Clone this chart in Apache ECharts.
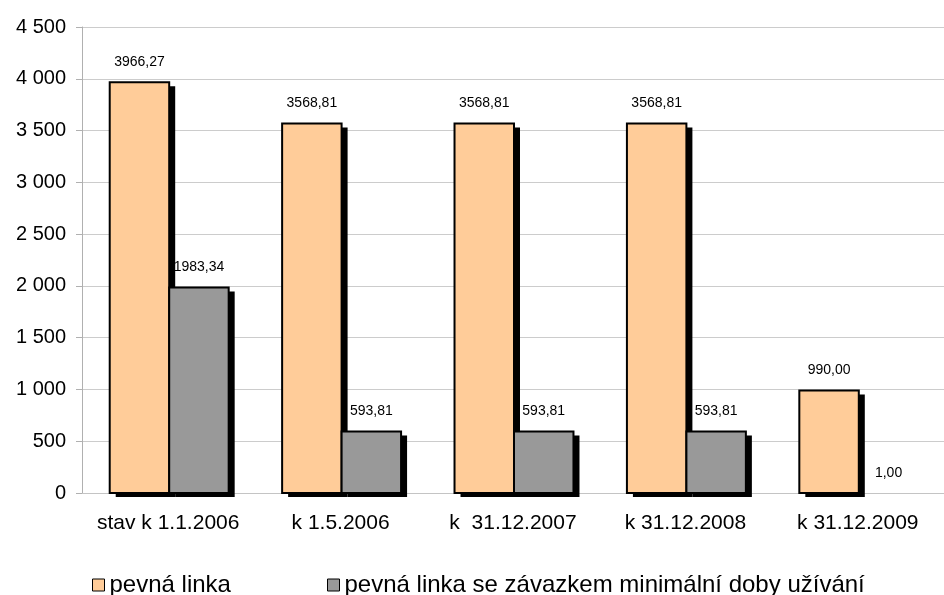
<!DOCTYPE html>
<html>
<head>
<meta charset="utf-8">
<script src="https://cdn.jsdelivr.net/npm/echarts@6/dist/echarts.min.js"></script>
<style>
  html, body { margin: 0; padding: 0; background: #fff; }
  #chart { width: 944px; height: 595px; }
</style>
</head>
<body>
<div id="chart"></div>
<script>
const categories = ['stav k 1.1.2006', 'k 1.5.2006', 'k  31.12.2007', 'k 31.12.2008', 'k 31.12.2009']
const pevnaLinka = [3966.27, 3568.81, 3568.81, 3568.81, 990.0]
const seZavazkem = [1983.34, 593.81, 593.81, 593.81, 1.0]
const seriesNames = ['pevná linka', 'pevná linka se závazkem minimální doby užívání']
const seriesColors = ['#ffcc99', '#999999']

const font = '"Liberation Sans", Arial, sans-serif'

function fmtValue(v) {
  return v.toFixed(2).replace('.', ',')
}

function fmtAxis(v) {
  return String(v).replace(/\B(?=(\d{3})+(?!\d))/g, ' ')
}

// bar with a hard black drop shadow, drawn via the axis scales
function makeRender(color, slot) {
  return (params, api) => {
    const i = api.value(0)
    const v = api.value(1)
    const top = api.coord([i, v])
    const base = api.coord([i, 0])
    const band = api.size([1, 0])[0]
    const w = band * 0.345
    const x = top[0] - w + slot * w + 1
    const h = base[1] - top[1]
    const children = []
    if (h >= 1) {
      children.push({
        type: 'rect',
        shape: { x: x + 6, y: top[1] + 4, width: w, height: h },
        style: { fill: '#000' },
      })
      children.push({
        type: 'rect',
        shape: { x, y: top[1], width: w, height: h },
        style: { fill: color, stroke: '#000', lineWidth: 2 },
      })
    }
    children.push({
      type: 'text',
      style: {
        text: fmtValue(v),
        x: x + w / 2,
        y: top[1] - 20,
        align: 'center',
        verticalAlign: 'middle',
        font: '14px ' + font,
        fill: '#000',
      },
    })
    return { type: 'group', children }
  }
}

const legendBase = {
  top: 573,
  padding: 0,
  icon: 'rect',
  itemWidth: 12,
  itemHeight: 12,
  textStyle: { fontFamily: font, fontSize: 24, lineHeight: 24, color: '#000' },
  itemStyle: { borderColor: '#000', borderWidth: 1 },
}

const chart = echarts.init(document.getElementById('chart'))
chart.setOption({
  animation: false,
  grid: { left: 82, right: 0, top: 27, bottom: 102 },
  legend: [
    { ...legendBase, left: 92, data: [seriesNames[0]] },
    { ...legendBase, left: 327, data: [seriesNames[1]] },
  ],
  xAxis: {
    type: 'category',
    data: categories,
    axisLine: { lineStyle: { color: '#c4c4c4' } },
    axisTick: { show: false },
    axisLabel: { interval: 0, color: '#000', fontFamily: font, fontSize: 21, margin: 20 },
  },
  yAxis: {
    type: 'value',
    min: 0,
    max: 4500,
    interval: 500,
    axisLine: { show: true, lineStyle: { color: '#b0b0b0' } },
    axisTick: { show: true, length: 6, lineStyle: { color: '#b0b0b0' } },
    splitLine: { lineStyle: { color: '#cccccc' } },
    axisLabel: { color: '#000', fontFamily: font, fontSize: 20, margin: 16, formatter: fmtAxis },
  },
  series: [
    {
      name: seriesNames[0],
      type: 'custom',
      renderItem: makeRender(seriesColors[0], 0),
      encode: { x: 0, y: 1 },
      itemStyle: { color: seriesColors[0] },
      data: pevnaLinka.map((v, i) => [i, v]),
    },
    {
      name: seriesNames[1],
      type: 'custom',
      renderItem: makeRender(seriesColors[1], 1),
      encode: { x: 0, y: 1 },
      itemStyle: { color: seriesColors[1] },
      data: seZavazkem.map((v, i) => [i, v]),
    },
  ],
})
</script>
</body>
</html>
